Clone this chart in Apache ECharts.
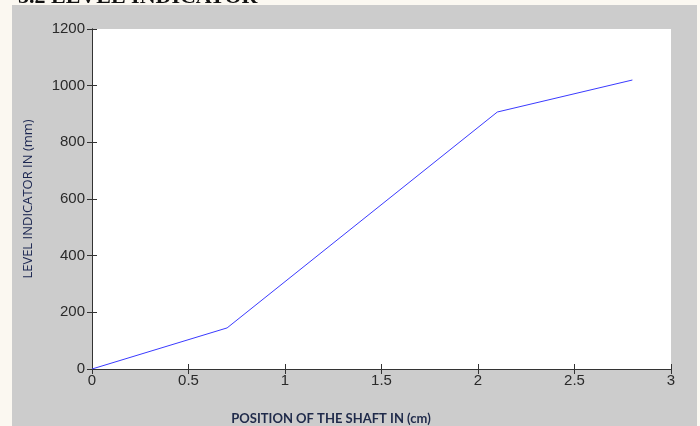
<!DOCTYPE html>
<html lang="en">
<head>
  <meta charset="UTF-8">
  <title>Level indicator</title>
  <style>
    html, body { margin: 0; padding: 0; background: #fbf8f1; }
    #main { width: 700px; height: 426px; }
  </style>
</head>
<body>
  <div id="main"></div>
  <script src="https://cdn.jsdelivr.net/npm/echarts@6/dist/echarts.min.js"></script>
  <script>
    // shaft position (cm) vs level indicator (mm)
    var positions = [0, 0.7, 2.1, 2.8];
    var levels = [0, 145, 907, 1020];
    var xTicks = [0, 0.5, 1, 1.5, 2, 2.5, 3];
    var yTicks = [0, 200, 400, 600, 800, 1000, 1200];

    var chart = echarts.init(document.getElementById('main'));

    var tickFont = {
      color: '#2a2a2a', fontSize: 15, fontFamily: 'Liberation Sans, Arial, sans-serif',
      formatter: function (v) { return String(v); }
    };
    var lineStyle = { color: '#333', width: 1 };

    var option = {
      animation: false,
      backgroundColor: 'transparent',
      grid: { left: 92, top: 29, width: 579, height: 340 },
      graphic: [
        { type: 'rect', z: -10, shape: { x: 12, y: 5, width: 685, height: 421 }, style: { fill: '#cccccc' } },
        { type: 'rect', z: -9, shape: { x: 92, y: 29, width: 579, height: 340 }, style: { fill: '#ffffff' } },
        {
          type: 'text', left: 18, top: -14, z: -20,
          style: { text: '5.2 LEVEL INDICATOR', fill: '#111', font: 'bold 22px "Liberation Serif", serif' }
        },
        {
          type: 'text', x: 28, y: 199, rotation: Math.PI / 2,
          style: {
            text: 'LEVEL INDICATOR IN (mm)', fill: '#1a2550',
            font: '13px "Liberation Sans Narrow", "Open Sans", sans-serif',
            align: 'center', verticalAlign: 'middle'
          }
        },
        {
          type: 'text', x: 331, y: 419,
          style: {
            text: 'POSITION OF THE SHAFT IN (cm)', fill: '#1f2a4a',
            font: 'bold 13px Lato, "Open Sans", sans-serif',
            align: 'center', verticalAlign: 'middle'
          }
        }
      ],
      xAxis: [
        {
          type: 'value', min: xTicks[0], max: xTicks[xTicks.length - 1], interval: 0.5,
          axisLine: { lineStyle: lineStyle },
          axisTick: { inside: true, length: 5, lineStyle: lineStyle },
          axisLabel: Object.assign({ margin: 4 }, tickFont),
          splitLine: { show: false }
        },
        {
          type: 'value', position: 'top', min: xTicks[0], max: xTicks[xTicks.length - 1], interval: 0.5,
          axisLine: { lineStyle: lineStyle },
          axisTick: { inside: true, length: 5, lineStyle: lineStyle },
          axisLabel: { show: false },
          splitLine: { show: false }
        }
      ],
      yAxis: [
        {
          type: 'value', min: yTicks[0], max: yTicks[yTicks.length - 1], interval: 200,
          axisLine: { show: true, lineStyle: lineStyle },
          axisTick: { show: true, inside: true, length: 5, lineStyle: lineStyle },
          axisLabel: Object.assign({ margin: 7 }, tickFont),
          splitLine: { show: false }
        },
        {
          type: 'value', position: 'right', min: yTicks[0], max: yTicks[yTicks.length - 1], interval: 200,
          axisLine: { show: true, lineStyle: lineStyle },
          axisTick: { show: true, inside: true, length: 5, lineStyle: lineStyle },
          axisLabel: { show: false },
          splitLine: { show: false }
        }
      ],
      series: [
        {
          type: 'line',
          data: positions.map(function (p, i) { return [p, levels[i]]; }),
          showSymbol: false,
          lineStyle: { color: '#3a3aff', width: 1 },
          itemStyle: { color: '#3a3aff' }
        }
      ]
    };

    chart.setOption(option);
  </script>
</body>
</html>
